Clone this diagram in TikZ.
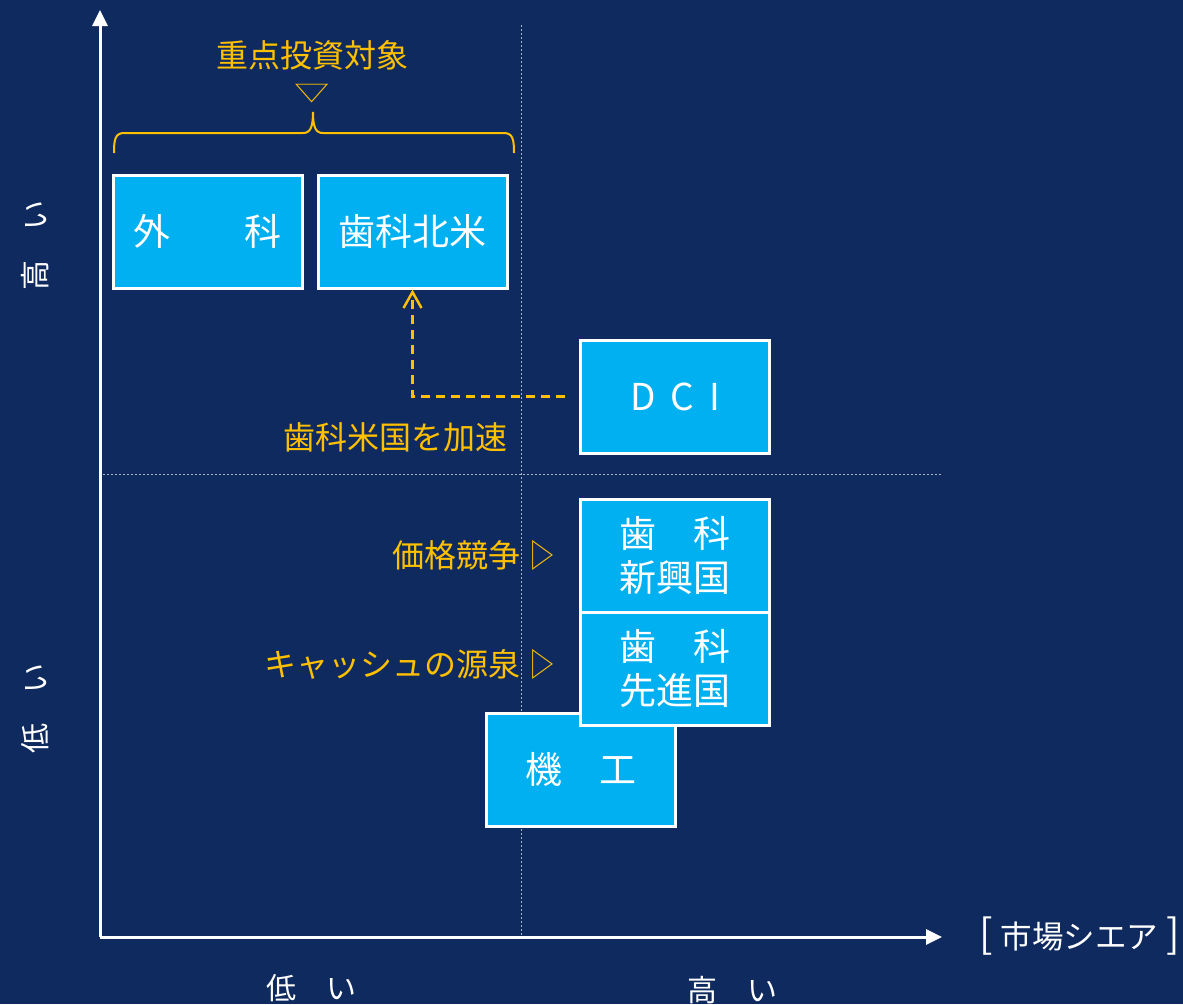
\documentclass[tikz,border=0pt]{standalone}
\usepackage{fontspec}
\setmainfont{Noto Sans CJK JP}
\usetikzlibrary{arrows.meta}
\definecolor{bg}{HTML}{0F2A5F}
\definecolor{cy}{HTML}{00B0F0}
\definecolor{gold}{HTML}{FFC000}
\definecolor{gridc}{HTML}{A9B4C8}
\tikzset{
  box/.style={draw=white, line width=3pt, fill=cy, text=white, minimum width=189pt, minimum height=113pt, inner sep=0pt, font=\fontsize{37}{44}\selectfont, align=center},
  lbl/.style={text=gold, font=\fontsize{32}{38}\selectfont, inner sep=0pt},
  axlbl/.style={text=white, font=\fontsize{30}{36}\selectfont, inner sep=0pt},
  axisline/.style={draw=white, line width=3pt, -{Triangle[length=16pt,width=15pt]}},
  gridline/.style={draw=gridc, line width=1pt, dash pattern=on 2pt off 2pt},
  dasharrow/.style={draw=gold, line width=2.5pt, dash pattern=on 9pt off 6pt, -{Straight Barb[length=16pt,width=18pt]}},
}
\begin{document}
\begin{tikzpicture}[x=1pt,y=-1pt]
\fill[bg] (0,0) rectangle (1183,1004);
\useasboundingbox (0,0) rectangle (1183,1004);
% grid
\coordinate (gv1) at (521,25);
\coordinate (gv2) at (521,937);
\coordinate (gh1) at (103,474);
\coordinate (gh2) at (942,474);
\draw[gridline] (gv1) -- (gv2);
\draw[gridline] (gh1) -- (gh2);
% axes
\coordinate (o) at (100,937);
\coordinate (ytop) at (100,10);
\coordinate (xend) at (942,937);
\draw[axisline] (o) -- (ytop);
\draw[axisline] (o) -- (xend);
% boxes
\node[box] (geka) at (207.5,231.5) {外　　科};
\node[box] (hokubei) at (412.5,231.5) {歯科北米};
\node[box] (dci) at (675,396.5) {D\hspace{15pt}C\hspace{15pt}I};
\node[box] (shinko) at (675,555.5) {歯　科\\新興国};
\node[box] (kiko) at (580.5,769.5) {機　工};
\node[box] (senshin) at (675,668.5) {歯　科\\先進国};
% dashed connector
\draw[dasharrow] (dci.west) ++(-14,0) -| (hokubei.south);
\node[lbl] (kasoku) at (395,437) {歯科米国を加速};
% brace and title
\draw[gold, line width=2pt] (114,153) .. controls (114,140) and (115,133) .. (124,133) -- (303,133) .. controls (310,133) and (313,128) .. (313,112) .. controls (313,128) and (316,133) .. (323,133) -- (504,133) .. controls (513,133) and (514,140) .. (514,153);
\node[lbl] (title) at (312,55) {重点投資対象};
\node[lbl] (tri) at (312,94) {\scalebox{1.1}[0.72]{▽}};
\node[lbl, anchor=east] (kakaku) at (555,555) {価格競争\hspace{9pt}\scalebox{0.8}[1]{▷}};
\node[lbl, anchor=east] (cash) at (555,664) {キャッシュの源泉\hspace{9pt}\scalebox{0.8}[1]{▷}};
% axis labels
\node[axlbl, rotate=90] (yhigh) at (35,245) {高　い};
\node[axlbl, rotate=90] (ylow) at (35,708) {低　い};
\node[axlbl] (xlow) at (311,988) {低　い};
\node[axlbl] (xhigh) at (732,990) {高　い};
\node[axlbl, anchor=west, font=\fontsize{31.5}{36}\selectfont] (share) at (979,936) {{\fontsize{40}{40}\selectfont[}\hspace{8pt}市場シエア\hspace{8pt}{\fontsize{40}{40}\selectfont]}};
\end{tikzpicture}
\end{document}
